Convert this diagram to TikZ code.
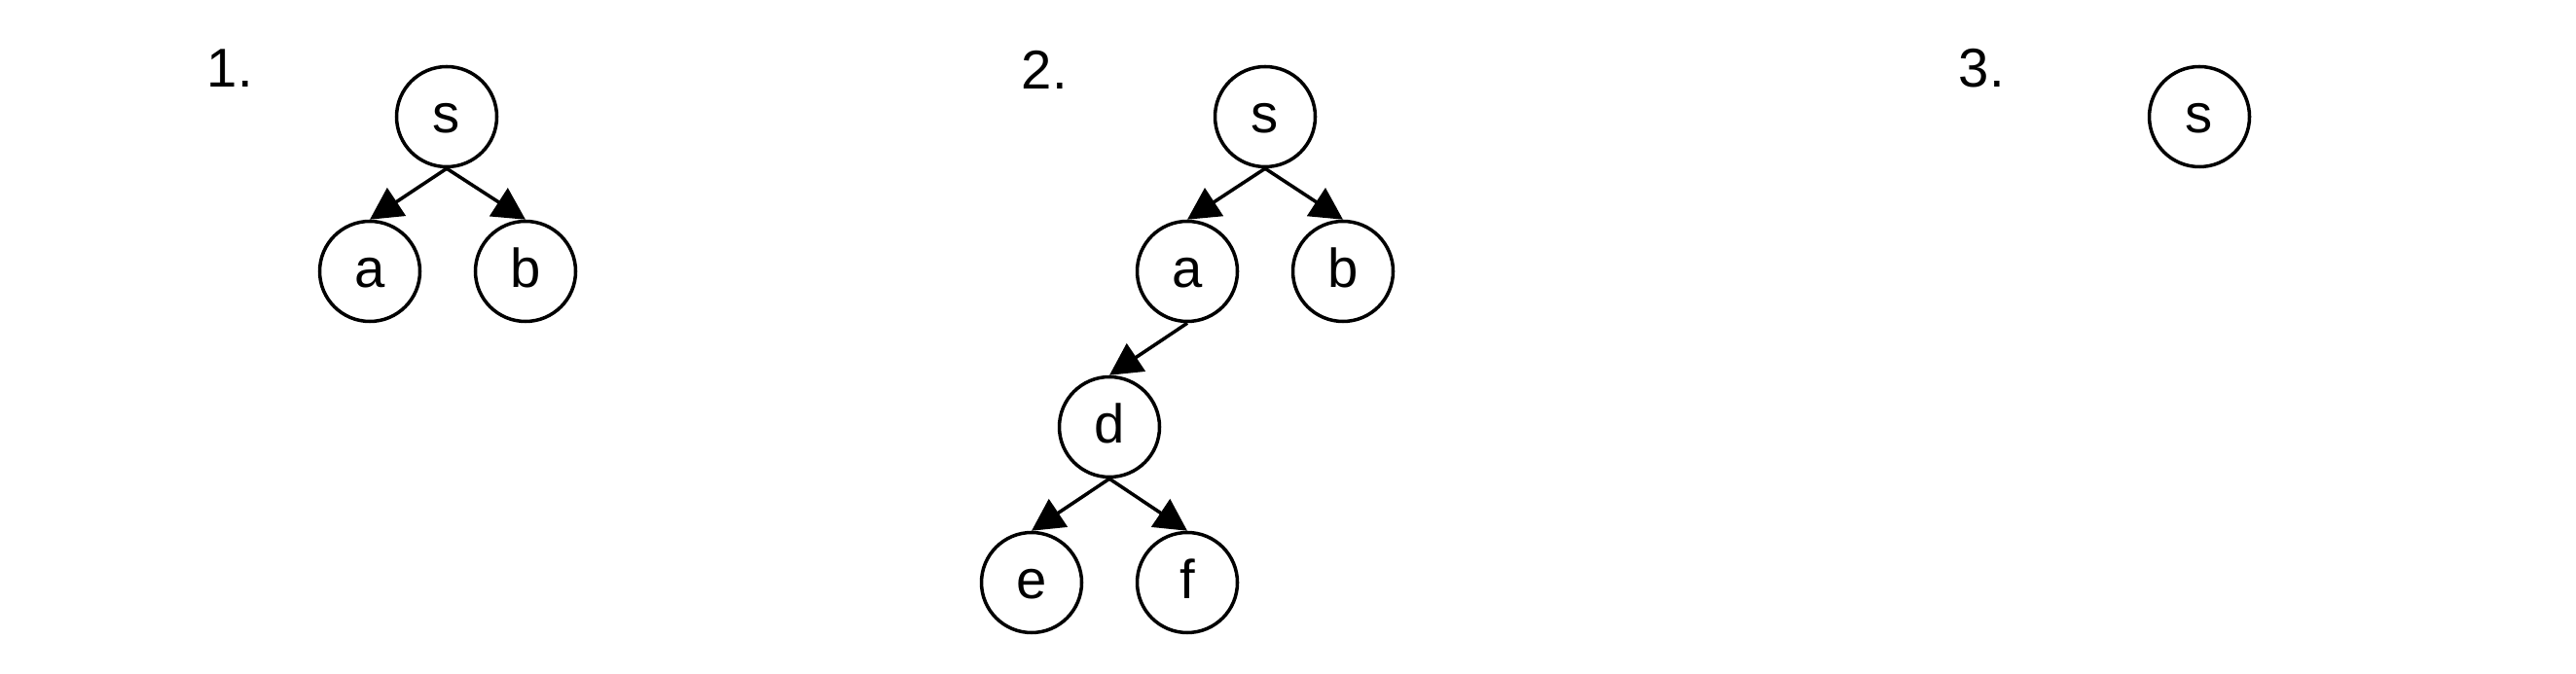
\documentclass[tikz,border=0pt]{standalone}
\usepackage{fontspec}
\setmainfont{Liberation Sans}
\usepackage{tikz}
\usetikzlibrary{arrows.meta}

\begin{document}
\begin{tikzpicture}[
	line width=1pt,
	font=\fontsize{16}{19}\selectfont
]
\tikzset{
    mycirc/.style = {circle, draw=black, align=center, minimum size=1.03cm, inner sep=0pt, text height=0.34cm, text depth=0pt},
    myarrow/.style = {-{Triangle[length=0.33cm,width=0.34cm]}},
    mylabel/.style = {anchor=base west, inner sep=0pt}
}
\useasboundingbox (0,0) rectangle (26.47,6.93);
% tree 1
\node[mylabel] (l1) at (2.11,6.03) {1.};
\node[mycirc] (s1) at (4.59,5.73) {s};
\node[mycirc] (a1) at (3.80,4.14) {a};
\node[mycirc] (b1) at (5.40,4.14) {b};
\draw[myarrow] (s1.south) -- (a1.north);
\draw[myarrow] (s1.south) -- (b1.north);
% tree 2
\node[mylabel] (l2) at (10.48,6.01) {2.};
\node[mycirc] (s2) at (13.00,5.73) {s};
\node[mycirc] (a2) at (12.20,4.14) {a};
\node[mycirc] (b2) at (13.80,4.14) {b};
\node[mycirc] (d2) at (11.40,2.54) {d};
\node[mycirc] (e2) at (10.60,0.94) {e};
\node[mycirc] (f2) at (12.20,0.94) {f};
\draw[myarrow] (s2.south) -- (a2.north);
\draw[myarrow] (s2.south) -- (b2.north);
\draw[myarrow] (a2.south) -- (d2.north);
\draw[myarrow] (d2.south) -- (e2.north);
\draw[myarrow] (d2.south) -- (f2.north);
% tree 3
\node[mylabel] (l3) at (20.11,6.03) {3.};
\node[mycirc] (s3) at (22.60,5.73) {s};
\end{tikzpicture}
\end{document}
